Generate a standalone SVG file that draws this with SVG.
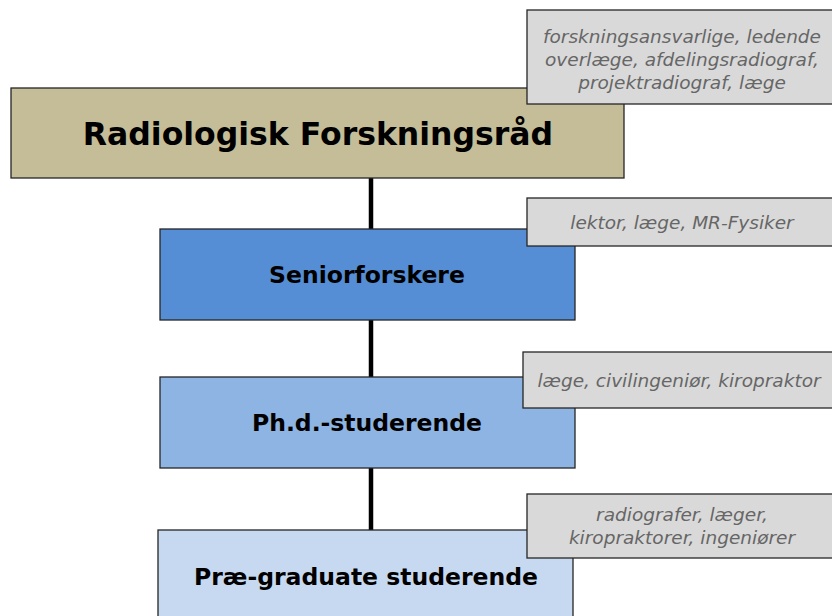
<svg xmlns="http://www.w3.org/2000/svg" width="832" height="616" viewBox="0 0 832 616">
<style>
.box{stroke:#262626;stroke-width:1.3}
.note{fill:#d9d9d9;stroke:#262626;stroke-width:1.3}
.t{font-family:"DejaVu Sans",Verdana,sans-serif;font-weight:bold;fill:#000;text-anchor:middle}
.n{font-family:"DejaVu Sans",Verdana,sans-serif;font-style:italic;fill:#666;text-anchor:middle;font-size:18.5px}
.c{stroke:#000;stroke-width:4.5;fill:none}
</style>
<rect width="832" height="616" fill="#fff"/>
<g id="connectors">
<line class="c" x1="371" y1="178" x2="371" y2="230"/>
<line class="c" x1="371" y1="320" x2="371" y2="378"/>
<line class="c" x1="371" y1="468" x2="371" y2="531"/>
</g>
<g id="node-raad">
<rect class="box" x="11" y="88" width="613" height="90" fill="#c4bd97"/>
<text class="t" x="318" y="145" font-size="31.5">Radiologisk Forskningsråd</text>
</g>
<g id="node-senior">
<rect class="box" x="160" y="229" width="415" height="91" fill="#558ed5"/>
<text class="t" x="367" y="283" font-size="23.5">Seniorforskere</text>
</g>
<g id="node-phd">
<rect class="box" x="160" y="377" width="415" height="91" fill="#8eb4e3"/>
<text class="t" x="367" y="431" font-size="23.5">Ph.d.-studerende</text>
</g>
<g id="node-prae">
<rect class="box" x="158" y="530" width="415" height="100" fill="#c6d9f1"/>
<text class="t" x="366" y="585" font-size="23.5">Præ-graduate studerende</text>
</g>
<g id="note-raad">
<rect class="note" x="527" y="10" width="310" height="94"/>
<text class="n" x="682" y="43">forskningsansvarlige, ledende</text>
<text class="n" x="682" y="66">overlæge, afdelingsradiograf,</text>
<text class="n" x="682" y="89">projektradiograf, læge</text>
</g>
<g id="note-senior">
<rect class="note" x="527" y="198" width="310" height="48"/>
<text class="n" x="682" y="229">lektor, læge, MR-Fysiker</text>
</g>
<g id="note-phd">
<rect class="note" x="523" y="352" width="314" height="56"/>
<text class="n" x="679" y="387">læge, civilingeniør, kiropraktor</text>
</g>
<g id="note-prae">
<rect class="note" x="527" y="494" width="310" height="64"/>
<text class="n" x="682" y="521">radiografer, læger,</text>
<text class="n" x="682" y="544">kiropraktorer, ingeniører</text>
</g>
</svg>
